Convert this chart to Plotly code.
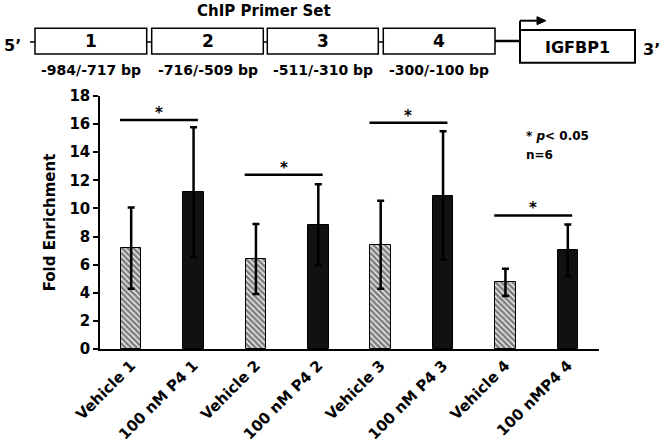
import plotly.graph_objects as go

# ---------------- data ----------------
categories = ["Vehicle 1", "100 nM P4 1", "Vehicle 2", "100 nM P4 2",
              "Vehicle 3", "100 nM P4 3", "Vehicle 4", "100 nMP4 4"]
vehicle_means = [7.18, 6.40, 7.42, 4.74]
vehicle_err = [2.89, 2.49, 3.13, 0.97]
p4_means = [11.16, 8.84, 10.92, 7.01]
p4_err = [4.62, 2.89, 4.57, 1.85]
sig_heights = [16.3, 12.4, 16.1, 9.5]
primer_sets = ["1", "2", "3", "4"]
primer_ranges = ["-984/-717 bp", "-716/-509 bp", "-511/-310 bp", "-300/-100 bp"]
y_ticks = list(range(0, 19, 2))

vehicle_x = [2 * i for i in range(len(vehicle_means))]
p4_x = [2 * i + 1 for i in range(len(p4_means))]

FONT = "DejaVu Sans"

fig = go.Figure()
fig.add_trace(go.Bar(
    x=vehicle_x, y=vehicle_means, width=0.33,
    marker=dict(color="white", line=dict(color="black", width=1),
                pattern=dict(shape="\\", fgcolor="black", bgcolor="white", size=4, solidity=0.7)),
    error_y=dict(type="data", array=vehicle_err, color="black", thickness=2.5, width=3.5),
    showlegend=False))
fig.add_trace(go.Bar(
    x=p4_x, y=p4_means, width=0.33,
    marker=dict(color="#111111", line=dict(color="black", width=1)),
    error_y=dict(type="data", array=p4_err, color="black", thickness=2.5, width=3.5),
    showlegend=False))

shapes = []
annotations = []

# significance bars
for i, h in enumerate(sig_heights):
    x0 = vehicle_x[i] - 0.18
    x1 = p4_x[i] + 0.07
    shapes.append(dict(type="line", xref="x", yref="y", x0=x0, x1=x1, y0=h, y1=h,
                       line=dict(color="black", width=2.5)))
    annotations.append(dict(xref="x", yref="y", x=(x0 + x1) / 2, y=h, text="*",
                            showarrow=False, yanchor="bottom", yshift=-4,
                            font=dict(family=FONT, size=15, color="black", weight="bold")))

# significance note
annotations.append(dict(xref="paper", yref="paper", x=(524 - 100) / 499, y=(349 - 136) / 253,
                        text="* <i>p</i>< 0.05", showarrow=False, xanchor="left", yanchor="middle",
                        font=dict(family=FONT, size=12, color="black", weight="bold")))
annotations.append(dict(xref="paper", yref="paper", x=(524 - 100) / 499, y=(349 - 155) / 253,
                        text="n=6", showarrow=False, xanchor="left", yanchor="middle",
                        font=dict(family=FONT, size=12, color="black", weight="bold")))

# ---------------- top diagram (paper coords from pixel layout) ----------------
L, R, T, B = 100, 599, 96, 349


def px(x):
    return (x - L) / (R - L)


def py(y):
    return (B - y) / (B - T)


def text(x, y, s, size, anchor="center"):
    annotations.append(dict(xref="paper", yref="paper", x=px(x), y=py(y), text=s,
                            showarrow=False, xanchor=anchor, yanchor="middle",
                            font=dict(family=FONT, size=size, color="black", weight="bold")))


def line(x0, y0, x1, y1, w):
    shapes.append(dict(type="line", xref="paper", yref="paper", x0=px(x0), x1=px(x1),
                       y0=py(y0), y1=py(y1), line=dict(color="black", width=w)))


def rect(x0, y0, x1, y1, w):
    shapes.append(dict(type="rect", xref="paper", yref="paper", x0=px(x0), x1=px(x1),
                       y0=py(y0), y1=py(y1), line=dict(color="black", width=w),
                       fillcolor="white"))


text(264, 11, "ChIP Primer Set", 15)
text(12, 45, "5\u2019", 16)
line(30, 42, 35, 42, 1.5)
box_edges = [(35, 146.7), (151.7, 263.3), (267.3, 378.3), (383.3, 495)]
for k, (a, b) in enumerate(box_edges):
    rect(a, 28.3, b, 54, 1.5)
    text((a + b) / 2, 41.5, primer_sets[k], 17)
    text((a + b) / 2, 70, primer_ranges[k], 14)
    if k < len(box_edges) - 1:
        line(b, 42, box_edges[k + 1][0], 42, 1.5)
line(495, 41, 520, 41, 2.5)
rect(520, 30, 635, 62.7, 2)
text(577.5, 47, "IGFBP1", 16)
line(520, 30, 520, 20.7, 2)
line(520, 20.7, 539, 20.7, 2)
shapes.append(dict(type="path", xref="paper", yref="paper",
                   path=f"M {px(537)},{py(16.7)} L {px(546)},{py(20.7)} L {px(537)},{py(24.7)} Z",
                   fillcolor="black", line=dict(color="black", width=1)))
text(651, 50, "3\u2019", 16)

fig.update_layout(
    width=662, height=444,
    margin=dict(l=100, r=63, t=96, b=95, autoexpand=False),
    paper_bgcolor="white", plot_bgcolor="white",
    font=dict(family=FONT, color="black", weight="bold"),
    bargap=0, barmode="overlay",
    shapes=shapes, annotations=annotations,
    xaxis=dict(range=[-0.5, 7.5], tickvals=list(range(len(categories))), ticktext=categories,
               tickangle=-45, showline=True, linecolor="black", linewidth=1.5,
               ticks="", showgrid=False, zeroline=False,
               tickfont=dict(family=FONT, size=15, color="black", weight="bold")),
    yaxis=dict(range=[0, 18], tickvals=y_ticks, showline=True, linecolor="black", linewidth=1.5,
               ticks="outside", ticklen=5, tickwidth=1.5, tickcolor="black",
               showgrid=False, zeroline=False,
               tickfont=dict(family=FONT, size=15, color="black", weight="bold"),
               title=dict(text="Fold Enrichment", standoff=10,
                          font=dict(family=FONT, size=15, color="black", weight="bold"))),
)

fig.write_html("out.html", config={"displayModeBar": False},
               post_script="document.body.style.margin='0';document.body.style.overflow='hidden';")
